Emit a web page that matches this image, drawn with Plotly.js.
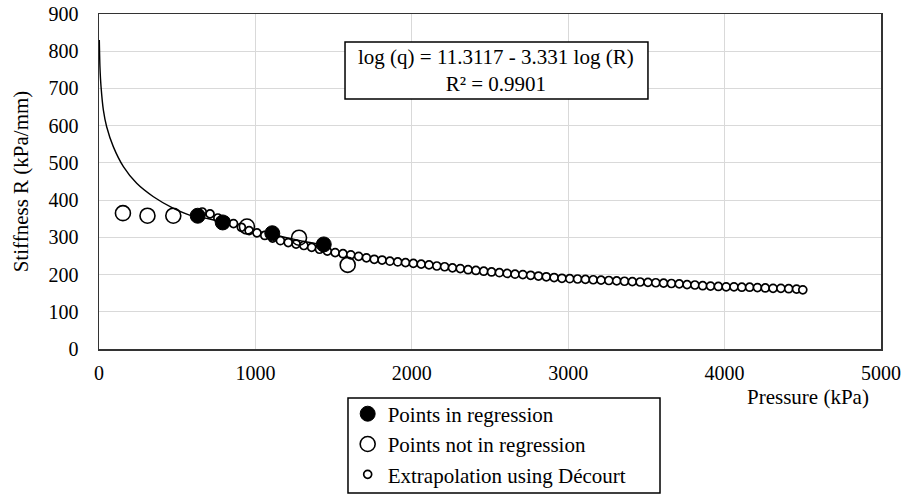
<!DOCTYPE html>
<html>
<head>
<meta charset="utf-8">
<script src="https://cdn.plot.ly/plotly-3.0.1.min.js"></script>
<style>html,body{margin:0;padding:0;background:#fff;}#chart{width:906px;height:495px;}</style>
</head>
<body>
<div id="chart"></div>
<script>
// Regression curve (pressure kPa, stiffness kPa/mm)
const curveX = [2, 6, 13, 28, 49, 92, 156, 241, 348, 476, 603, 700, 800, 900, 1000, 1100, 1200, 1300, 1400, 1450];
const curveY = [830, 758, 705, 642, 597, 543, 490, 445, 409, 378, 357, 350, 340, 328, 318, 308, 299, 290, 282, 278];

// Points in regression (filled)
const inRegX = [631, 791, 1108, 1437];
const inRegY = [358, 340, 311, 281];

// Points not in regression (open)
const notRegX = [153, 310, 475, 946, 1279, 1590];
const notRegY = [365, 358, 358, 329, 299, 226];

// Extrapolation using Décourt (small open)
const extX = [660, 710, 760, 810, 860, 910, 960, 1010, 1060, 1110, 1160, 1210, 1260, 1310, 1360, 1410, 1460, 1510, 1560, 1610,
  1660, 1710, 1760, 1810, 1860, 1910, 1960, 2010, 2060, 2110, 2160, 2210, 2260, 2310, 2360, 2410, 2460, 2510, 2560, 2610,
  2660, 2710, 2760, 2810, 2860, 2910, 2960, 3010, 3060, 3110, 3160, 3210, 3260, 3310, 3360, 3410, 3460, 3510, 3560, 3610,
  3660, 3710, 3760, 3810, 3860, 3910, 3960, 4010, 4060, 4110, 4160, 4210, 4260, 4310, 4360, 4410, 4460, 4500];
const extY = [368, 363, 352, 344, 337, 327, 318, 312, 305, 298, 291, 286, 282, 278, 273, 268, 263, 259, 256, 253,
  249, 245, 241, 239, 236, 234, 232, 230, 228, 226, 223, 221, 218, 216, 213, 211, 209, 207, 205, 203,
  201, 200, 198, 196, 194, 192, 190, 189, 188, 187, 186, 185, 184, 183, 182, 181, 180, 179, 178, 177,
  176, 175, 173, 172, 170, 169, 168, 167, 167, 166, 166, 165, 164, 163, 163, 162, 161, 159];

const xTicks = [0, 1000, 2000, 3000, 4000, 5000];
const yTicks = [0, 100, 200, 300, 400, 500, 600, 700, 800, 900];

const serif = 'Liberation Serif';

const traces = [
  {x: curveX, y: curveY, mode: 'lines', line: {color: '#000', width: 1.4, shape: 'spline', smoothing: 0.6}, showlegend: false, hoverinfo: 'skip'},
  {x: extX, y: extY, mode: 'markers', name: 'Extrapolation using Décourt', legendrank: 3,
   marker: {symbol: 'circle', size: 8, color: '#fff', line: {color: '#000', width: 1.7}}},
  {x: notRegX, y: notRegY, mode: 'markers', name: 'Points not in regression', legendrank: 2,
   marker: {symbol: 'circle-open', size: 15, color: '#000', line: {color: '#000', width: 1.6}}},
  {x: inRegX, y: inRegY, mode: 'markers', name: 'Points in regression', legendrank: 1,
   marker: {symbol: 'circle', size: 15, color: '#000', line: {color: '#000', width: 1}}}
];

const axisCommon = {
  showgrid: true, gridcolor: '#d9d9d9', gridwidth: 1,
  showline: true, linecolor: '#333', linewidth: 1.5, mirror: true,
  zeroline: false, ticks: '', tickfont: {family: serif, size: 20, color: '#000'}
};

const layout = {
  width: 906, height: 495,
  margin: {l: 99, r: 25, t: 14, b: 146, autoexpand: false},
  paper_bgcolor: '#fff', plot_bgcolor: '#fff',
  font: {family: serif, color: '#000'},
  xaxis: Object.assign({}, axisCommon, {range: [0, 5000], tickvals: xTicks, ticktext: xTicks.map(String), ticklabelstandoff: 5}),
  yaxis: Object.assign({}, axisCommon, {range: [0, 900], tickvals: yTicks, ticktext: yTicks.map(String), ticklabelstandoff: 15,
    title: {text: 'Stiffness R (kPa/mm)', font: {family: serif, size: 21, color: '#000'}, standoff: 14}}),
  legend: {x: 0.318, y: -0.133, xanchor: 'left', yanchor: 'top', borderwidth: 0, bgcolor: 'rgba(0,0,0,0)',
    font: {family: serif, size: 21, color: '#000'}, traceorder: 'normal'},
  shapes: [
    {type: 'rect', xref: 'paper', yref: 'paper', x0: 0.3146, x1: 0.702, y0: 0.746, y1: 0.9164,
     fillcolor: '#fff', line: {color: '#000', width: 1.5}, layer: 'above'},
    {type: 'rect', xref: 'paper', yref: 'paper', x0: 0.3184, x1: 0.7174, y0: -0.4299, y1: -0.1463,
     fillcolor: 'rgba(0,0,0,0)', line: {color: '#000', width: 1.5}, layer: 'above'}
  ],
  annotations: [
    {xref: 'paper', yref: 'paper', x: 0.5077, y: 0.8313, text: 'log (q) = 11.3117 - 3.331 log (R)<br>R² = 0.9901', showarrow: false,
     xanchor: 'center', yanchor: 'middle', font: {family: serif, size: 21, color: '#000'}}
  ]
};
layout.annotations.push({xref: 'paper', yref: 'paper', x: 0.987, y: -0.143, text: 'Pressure (kPa)', showarrow: false,
  xanchor: 'right', yanchor: 'middle', font: {family: serif, size: 21, color: '#000'}});

Plotly.newPlot('chart', traces, layout, {displayModeBar: false, staticPlot: true});
</script>
</body>
</html>
